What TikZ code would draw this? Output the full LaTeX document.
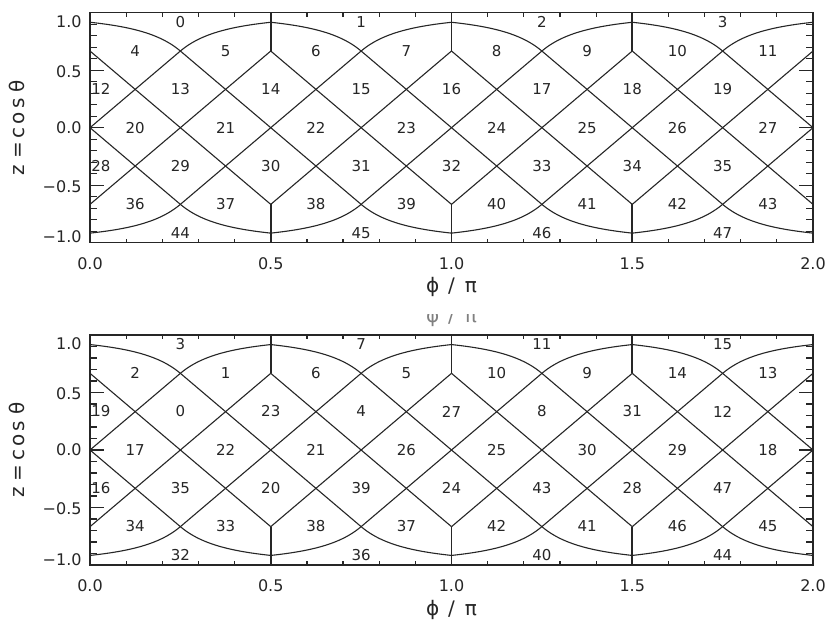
\documentclass[tikz,border=0pt]{standalone}
\usepackage{fontspec}
\newfontfamily\dvs{DejaVu Sans}
\newcommand\HProw[5]{% #1 z, #2 t0, #3 dt, #4 list, #5 prefix
  \foreach \n [count=\c from 0] in {#4} {%
    \node[pix] (#5-\n) at ({max(0.03,#2+\c*#3)},#1) {\n};}}
\newcommand\HPgrid{%
  \begin{scope}
    \clip (0,-1) rectangle (2,1);
    \foreach \k in {0,...,8}{%
      \draw[gridline] ({\k/4-0.25},{-2/3}) -- ({\k/4+0.25},{2/3});
      \draw[gridline] ({\k/4-0.25},{2/3}) -- ({\k/4+0.25},{-2/3});
    }
  \end{scope}
  \foreach \q in {0,...,3}{%
    \draw[gridline] plot[domain=0.5:1,samples=30,variable=\u] ({\q/2+\u/2},{1-1/(12*\u*\u)});
    \draw[gridline] plot[domain=0:0.5,samples=30,variable=\u] ({\q/2+\u/2},{1-1/(12*(1-\u)*(1-\u))});
    \draw[gridline] plot[domain=0.5:1,samples=30,variable=\u] ({\q/2+\u/2},{-1+1/(12*\u*\u)});
    \draw[gridline] plot[domain=0:0.5,samples=30,variable=\u] ({\q/2+\u/2},{-1+1/(12*(1-\u)*(1-\u))});
  }
  \foreach \tv in {0.5,1,1.5}{%
    \draw[vline] (\tv,{2/3}) -- (\tv,1);
    \draw[vline] (\tv,{-2/3}) -- (\tv,-1);
  }
  \foreach \i in {1,...,19}{%
    \draw[tickline] ({\i/10},-1) -- ++(0,2pt);
    \draw[tickline] ({\i/10},1) -- ++(0,-2pt);
  }
  \foreach \tv in {0.5,1,1.5}{%
    \draw[tickline] (\tv,-1) -- ++(0,3pt);
    \draw[tickline] (\tv,1) -- ++(0,-3pt);
  }
  \foreach \i in {-9,...,9}{%
    \draw[tickline] (0,{\i/10}) -- ++(3.5pt,0);
    \draw[tickline] (2,{\i/10}) -- ++(-3.5pt,0);
  }
  \foreach \zv in {-0.5,0,0.5}{%
    \draw[tickline] (0,\zv) -- ++(7pt,0);
    \draw[tickline] (2,\zv) -- ++(-7pt,0);
  }
  \draw[frame] (0,-1) rectangle (2,1);
  \foreach \zv/\lab in {0.925/1.0,0.49/0.5,0/0.0,-0.51/−0.5,-0.95/−1.0}{%
    \node[ticklab,anchor=east,xshift=-4pt] at (0,\zv) {\lab};
  }
  \foreach \tv/\lab in {0/0.0,0.5/0.5,1/1.0,1.5/1.5,2/2.0}{%
    \node[ticklab] at (\tv,-1.183) {\lab};
  }
}
\begin{document}
\begin{tikzpicture}[x=0.5pt,y=-0.5pt,
  gridline/.style={line width=0.55pt, draw=black!85},
  vline/.style={line width=0.8pt, draw=black!85},
  frame/.style={line width=0.8pt, draw=black!85},
  tickline/.style={line width=0.6pt, draw=black!85},
  pix/.style={font=\dvs\fontsize{7.5}{9}\selectfont, text=black!85, inner sep=0pt},
  ticklab/.style={font=\dvs\fontsize{8}{9}\selectfont, text=black!85, inner sep=0pt},
  axtitle/.style={font=\dvs\fontsize{10}{12}\selectfont, text=black!85, inner sep=0pt}]
\useasboundingbox (0,0) rectangle (834,624);
\fill[white] (0,0) rectangle (834,624);
% ---------- top panel (RING) ----------
\begin{scope}[shift={(45pt,-63.85pt)}, x=180.75pt, y=57.5pt]
  \HPgrid
  \HProw{0.92}{0.25}{0.5}{0,1,2,3}{T}
  \HProw{0.667}{0.125}{0.25}{4,...,11}{T}
  \HProw{0.335}{0}{0.25}{12,...,19}{T}
  \HProw{0}{0.125}{0.25}{20,...,27}{T}
  \HProw{-0.33}{0}{0.25}{28,...,35}{T}
  \HProw{-0.66}{0.125}{0.25}{36,...,43}{T}
  \HProw{-0.915}{0.25}{0.5}{44,...,47}{T}
  \node[axtitle] (xtitleT) at (1,-1.388) {ϕ\hspace{4.5pt}/\hspace{5pt}π};
  \node[axtitle,rotate=90] (ytitleT) at (-0.202,0) {z\hspace{3pt}=\hspace{2pt}c\kern1.5pt o\kern1.5pt s\hspace{3pt}θ};
  \begin{scope}
    \clip (0.5,-1.625) rectangle (1.5,-1.78);
    \node[axtitle,text=black!50] (ghost) at (1,-1.65) {ϕ\hspace{4.5pt}/\hspace{5pt}π};
  \end{scope}
\end{scope}
% ---------- bottom panel (NESTED) ----------
\begin{scope}[shift={(45pt,-225pt)}, x=180.75pt, y=57.5pt]
  \HPgrid
  \HProw{0.92}{0.25}{0.5}{3,7,11,15}{B}
  \HProw{0.667}{0.125}{0.25}{2,1,6,5,10,9,14,13}{B}
  \HProw{0.335}{0}{0.25}{19,0,23,4,27,8,31,12}{B}
  \HProw{0}{0.125}{0.25}{17,22,21,26,25,30,29,18}{B}
  \HProw{-0.33}{0}{0.25}{16,35,20,39,24,43,28,47}{B}
  \HProw{-0.66}{0.125}{0.25}{34,33,38,37,42,41,46,45}{B}
  \HProw{-0.915}{0.25}{0.5}{32,36,40,44}{B}
  \node[axtitle] (xtitleB) at (1,-1.39) {ϕ\hspace{4.5pt}/\hspace{5pt}π};
  \node[axtitle,rotate=90] (ytitleB) at (-0.202,0) {z\hspace{3pt}=\hspace{2pt}c\kern1.5pt o\kern1.5pt s\hspace{3pt}θ};
\end{scope}
\end{tikzpicture}
\end{document}
